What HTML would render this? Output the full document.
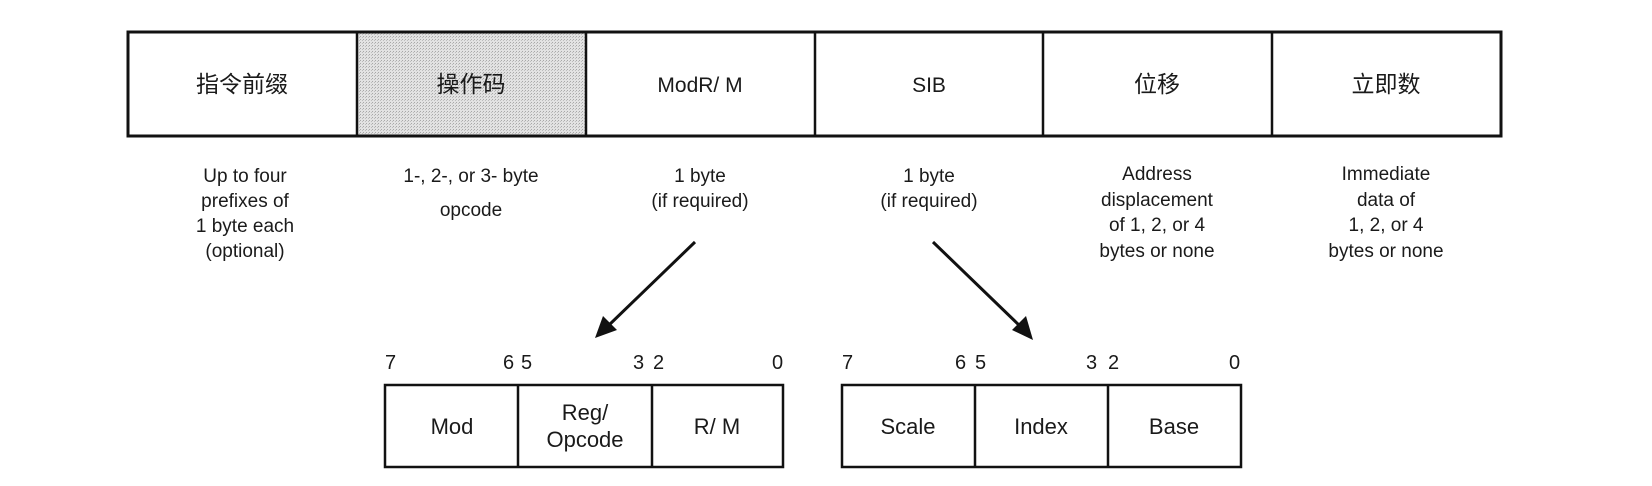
<!DOCTYPE html>
<html><head><meta charset="utf-8"><style>
html,body{margin:0;padding:0;background:#fff;}
svg{display:block;}
text{font-family:"Liberation Sans","Noto Sans CJK SC",sans-serif;fill:#1a1a1a;}
</style></head><body>
<svg width="1652" height="486" viewBox="0 0 1652 486" xmlns="http://www.w3.org/2000/svg">
<defs>
<pattern id="dots" width="3" height="3" patternUnits="userSpaceOnUse">
<rect width="3" height="3" fill="#e2e2e2"/><rect width="1" height="1" fill="#a8a8a8"/><rect x="2" y="1" width="1" height="1" fill="#bdbdbd"/>
</pattern>
</defs>
<rect x="357" y="32" width="229" height="104" fill="url(#dots)"/>
<rect x="128" y="32" width="1373" height="104" fill="none" stroke="#111" stroke-width="3"/>
<g stroke="#111" stroke-width="2.5">
<line x1="357" y1="32" x2="357" y2="136"/>
<line x1="586" y1="32" x2="586" y2="136"/>
<line x1="815" y1="32" x2="815" y2="136"/>
<line x1="1043" y1="32" x2="1043" y2="136"/>
<line x1="1272" y1="32" x2="1272" y2="136"/>
</g>
<g font-size="23" text-anchor="middle">
<text x="242" y="92">指令前缀</text>
<text x="471" y="92">操作码</text>
<text x="700" y="92" font-size="21">ModR/ M</text>
<text x="929" y="92" font-size="21">SIB</text>
<text x="1157" y="92">位移</text>
<text x="1386" y="92">立即数</text>
</g>
<g font-size="19" text-anchor="middle">
<text x="245" y="182">Up to four</text>
<text x="245" y="207">prefixes of</text>
<text x="245" y="232">1 byte each</text>
<text x="245" y="257">(optional)</text>
<text x="471" y="182">1-,  2-,  or 3- byte</text>
<text x="471" y="216">opcode</text>
<text x="700" y="182">1 byte</text>
<text x="700" y="207">(if required)</text>
<text x="929" y="182">1 byte</text>
<text x="929" y="207">(if required)</text>
<text x="1157" y="180">Address</text>
<text x="1157" y="206">displacement</text>
<text x="1157" y="231">of 1, 2, or 4</text>
<text x="1157" y="257">bytes or none</text>
<text x="1386" y="180">Immediate</text>
<text x="1386" y="206">data of</text>
<text x="1386" y="231">1, 2, or 4</text>
<text x="1386" y="257">bytes or none</text>
</g>
<g stroke="#111" stroke-width="3">
<line x1="695" y1="242" x2="608" y2="326"/>
<line x1="933" y1="242" x2="1021" y2="327"/>
</g>
<polygon points="595,338 603,316 617,330" fill="#111"/>
<polygon points="1033,340 1012,330 1026,316" fill="#111"/>
<g font-size="20">
<text x="385" y="369">7</text><text x="503" y="369">6</text><text x="521" y="369">5</text>
<text x="633" y="369">3</text><text x="653" y="369">2</text><text x="772" y="369">0</text>
<text x="842" y="369">7</text><text x="955" y="369">6</text><text x="975" y="369">5</text>
<text x="1086" y="369">3</text><text x="1108" y="369">2</text><text x="1229" y="369">0</text>
</g>
<g fill="none" stroke="#111" stroke-width="2.5">
<rect x="385" y="385" width="398" height="82"/>
<line x1="518" y1="385" x2="518" y2="467"/>
<line x1="652" y1="385" x2="652" y2="467"/>
<rect x="842" y="385" width="399" height="82"/>
<line x1="975" y1="385" x2="975" y2="467"/>
<line x1="1108" y1="385" x2="1108" y2="467"/>
</g>
<g font-size="22" text-anchor="middle">
<text x="452" y="434">Mod</text>
<text x="585" y="420">Reg/</text>
<text x="585" y="447">Opcode</text>
<text x="717" y="434">R/ M</text>
<text x="908" y="434">Scale</text>
<text x="1041" y="434">Index</text>
<text x="1174" y="434">Base</text>
</g>
</svg>
</body></html>
